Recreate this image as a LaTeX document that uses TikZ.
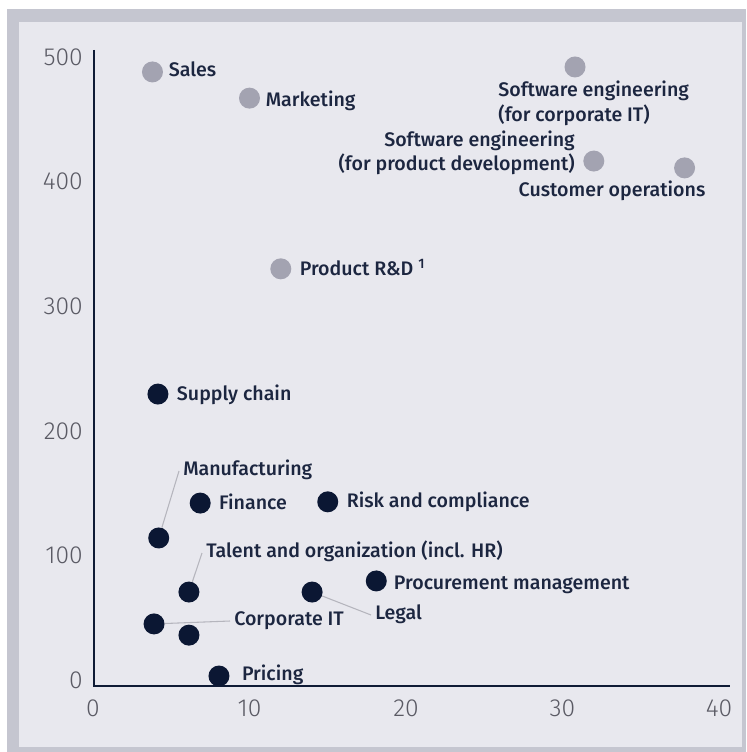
\documentclass[tikz,border=0pt]{standalone}
\usepackage{fontspec}
\setmainfont{Fira Sans}
\newfontfamily\lblfont{Fira Sans Medium}
\newfontfamily\tickfont{Fira Sans Light}
\usepackage{tikz}
\usetikzlibrary{positioning}
\usetikzlibrary{calc}
\definecolor{framegrey}{HTML}{C5C6D0}
\definecolor{panelgrey}{HTML}{E8E8EE}
\definecolor{dotgrey}{HTML}{A3A3B1}
\definecolor{dotdark}{HTML}{0B1733}
\definecolor{txtdark}{HTML}{1C2640}
\definecolor{tickgrey}{HTML}{5A5A64}
\definecolor{leadgrey}{HTML}{B5B5BD}
\definecolor{axisdark}{HTML}{0F1B35}

\begin{document}
\begin{tikzpicture}[
  x=0.75pt, y=-0.75pt,
  dot/.style={
    circle, inner sep=0pt,
    minimum size=15.75pt,
    fill=#1},
  lbl/.style={
    font=\lblfont\fontsize{14.7}{18.4}\selectfont,
    text=txtdark,
    inner sep=3pt,
    text height=0.75em,
    text depth=0.12em},
  lbltwo/.style={
    lbl,
    text height={},
    text depth={}},
  tick/.style={
    font=\tickfont\fontsize{18.5}{20}\selectfont,
    text=tickgrey,
    inner sep=0pt},
  lead/.style={
    draw=leadgrey, line width=0.8pt},
  axis/.style={
    draw=axisdark, line width=1.9pt},
]

  \def\xstep{15.65}%
  \def\ystep{1.246}%
  \def\xbase{93}%
  \def\ybase{680}%

  \useasboundingbox (0,0) rectangle (746,752);

  % Frame and panel
  \fill[white] (0,0) rectangle (746,752);
  \fill[framegrey] (7,9) rectangle (746,752);
  \fill[panelgrey] (19,22) rectangle (742,747);

  % Axes
  \coordinate (ytop) at (94,50);
  \coordinate (origin) at (94,686);
  \coordinate (xend) at (730,686);
  \draw[axis] (ytop) -- (origin) -- (xend);

  \foreach \v in {0,100,...,500} {
    \node[tick, anchor=east] (ty\v) at (83, \ybase-\ystep*\v) {\v};
  }
  \foreach \v in {0,10,...,40} {
    \node[tick] (tx\v) at (\xbase+\xstep*\v, 708) {\v};
  }

  % Grey points
  \foreach \name/\vx/\vy in {sales/3.8/488, mkt/10/467, rnd/12/330,
      swit/30.8/492, swdev/32/416.5, custops/37.8/411} {
    \node[dot=dotgrey] (p\name) at (\xbase+\xstep*\vx, \ybase-\ystep*\vy) {};
  }

  % Dark points
  \foreach \name/\vx/\vy in {supply/4.15/229.5, fin/6.85/142, risk/15/143,
      mfg/4.2/114, talent/6.13/70.6, legal/14/70.6, proc/18.1/79.5,
      corpit/3.9/45, other/6.13/36, pricing/8.05/3.2} {
    \node[dot=dotdark] (p\name) at (\xbase+\xstep*\vx, \ybase-\ystep*\vy) {};
  }

  % Labels
  \node[lbl, right=1pt of psales, yshift=-0.5pt] (lsales) {Sales};
  \node[lbl, right=1pt of pmkt, yshift=-3.5pt] (lmkt) {Marketing};
  \node[lbl, right=3pt of prnd, yshift=-1.5pt] (lrnd) {Product R\&D \textsuperscript{1}};
  \node[lbltwo, align=left, below=0pt of pswit, xshift=14pt, yshift=0.8pt] (lswit)
      {Software engineering\\(for corporate IT)};
  \node[lbltwo, align=right, left=3pt of pswdev, yshift=6pt] (lswdev)
      {Software engineering\\(for product development)};
  \node[lbl, below=3pt of pcustops, xshift=-54.4pt] (lcustops)
      {Customer operations};
  \node[lbl, right=3pt of psupply, yshift=-2pt] (lsupply) {Supply chain};
  \node[lbl, right=3pt of pfin, yshift=-1.8pt] (lfin) {Finance};
  \node[lbl, right=3pt of prisk, yshift=-1.2pt] (lrisk) {Risk and compliance};
  \node[lbl, right=2pt of pproc, yshift=-3.5pt] (lproc) {Procurement management};
  \node[lbl, right=6pt of ppricing] (lpricing) {Pricing};

  \node[lbl, anchor=west] (lmfg) at (179,471) {Manufacturing};
  \node[lbl, anchor=west] (ltalent) at (202,553)
      {Talent and organization (incl. HR)};
  \node[lbl, anchor=west] (llegal) at (371,615) {Legal};
  \node[lbl, anchor=west] (lcorpit) at (230,621) {Corporate IT};

  % Leader lines
  \draw[lead] (lmfg.west) -- (pmfg);
  \draw[lead] (ltalent.west) -- (ptalent);
  \draw[lead] (plegal) -- (llegal.west);
  \draw[lead] (pcorpit) -- (lcorpit.west);

\end{tikzpicture}
\end{document}
